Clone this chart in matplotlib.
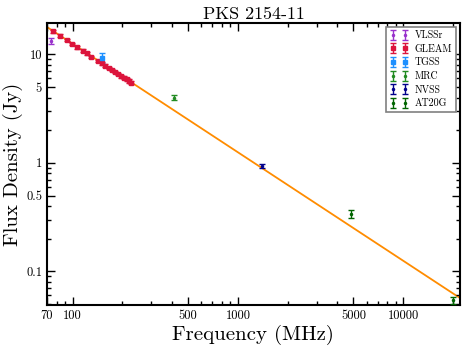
import matplotlib
matplotlib.use("Agg")
import matplotlib.pyplot as plt
from matplotlib.ticker import FixedLocator, FixedFormatter, NullFormatter, LogLocator

plt.rcParams['font.family'] = ['cmr10', 'DejaVu Serif']
plt.rcParams['mathtext.fontset'] = 'cm'
plt.rcParams['axes.unicode_minus'] = False

# data (MHz, Jy)
vlssr_freq = [74]
vlssr_flux = [13.4]
vlssr_err = [0.9]

gleam_freq = [76, 84, 92, 99, 107, 115, 122, 130, 143, 151,
              158, 166, 174, 181, 189, 197, 204, 212, 220, 227]
gleam_flux = [16.3, 14.9, 13.6, 12.5, 11.6, 10.8, 10.2, 9.5, 8.7, 8.3,
              7.9, 7.5, 7.2, 6.9, 6.6, 6.3, 6.1, 5.9, 5.7, 5.5]
gleam_err = [0.5, 0.4, 0.4, 0.3, 0.3, 0.3, 0.3, 0.25, 0.25, 0.25,
             0.2, 0.2, 0.2, 0.2, 0.2, 0.2, 0.2, 0.2, 0.2, 0.2]

tgss_freq = [150]
tgss_flux = [9.3]
tgss_err = [0.9]

mrc_freq = [408]
mrc_flux = [4.0]
mrc_err = [0.2]

nvss_freq = [1400]
nvss_flux = [0.94]
nvss_err = [0.04]

at20g_freq = [4800, 20000]
at20g_flux = [0.34, 0.0545]
at20g_err = [0.03, 0.004]

# fitted power law, drawn between its two end points
fit_freq = [70, 22000]
fit_flux = [17.9, 0.0569]

xticks = [70, 100, 500, 1000, 5000, 10000]
xtick_labels = ['70', '100', '500', '1000', '5000', '10000']
yticks = [0.1, 0.5, 1, 5, 10]
ytick_labels = ['0.1', '0.5', '1', '5', '10']

fig = plt.figure(figsize=(4.65, 3.53), dpi=100)
ax = fig.add_axes([0.101, 0.136, 0.888, 0.799])

ax.plot(fit_freq, fit_flux, color='darkorange', lw=1.3, zorder=1)

kw = dict(ls='none', capsize=2, elinewidth=1, capthick=1, zorder=3)
ax.errorbar(vlssr_freq, vlssr_flux, yerr=vlssr_err, fmt='.', ms=3,
            color='darkorchid', label='VLSSr', **kw)
ax.errorbar(gleam_freq, gleam_flux, yerr=gleam_err, fmt='s', ms=3.3,
            color='crimson', label='GLEAM', **kw)
ax.errorbar(tgss_freq, tgss_flux, yerr=tgss_err, fmt='s', ms=3,
            color='dodgerblue', label='TGSS', **kw)
ax.errorbar(mrc_freq, mrc_flux, yerr=mrc_err, fmt='.', ms=3,
            color='forestgreen', label='MRC', **kw)
ax.errorbar(nvss_freq, nvss_flux, yerr=nvss_err, fmt='.', ms=3,
            color='darkblue', label='NVSS', **kw)
ax.errorbar(at20g_freq, at20g_flux, yerr=at20g_err, fmt='.', ms=3,
            color='darkgreen', label='AT20G', **kw)

ax.set_xscale('log')
ax.set_yscale('log')
ax.set_xlim(70, 22000)
ax.set_ylim(0.049, 19.5)

ax.xaxis.set_major_locator(FixedLocator(xticks))
ax.xaxis.set_major_formatter(FixedFormatter(xtick_labels))
ax.xaxis.set_minor_locator(LogLocator(base=10, subs=range(2, 10), numticks=20))
ax.xaxis.set_minor_formatter(NullFormatter())
ax.yaxis.set_major_locator(FixedLocator(yticks))
ax.yaxis.set_major_formatter(FixedFormatter(ytick_labels))
ax.yaxis.set_minor_locator(LogLocator(base=10, subs=range(2, 10), numticks=20))
ax.yaxis.set_minor_formatter(NullFormatter())

ax.tick_params(which='both', direction='in', top=True, right=True, labelsize=9)
ax.tick_params(which='major', length=6, width=1)
ax.tick_params(which='minor', length=3, width=1)
for s in ax.spines.values():
    s.set_linewidth(1.5)

ax.set_xlabel('Frequency (MHz)', fontsize=15, labelpad=2)
ax.set_ylabel('Flux Density (Jy)', fontsize=15, labelpad=2)
ax.set_title('PKS 2154-11', fontsize=13, pad=3)

leg = ax.legend(loc='upper right', numpoints=2, fontsize=7.2, fancybox=False,
                edgecolor='0.5', framealpha=1, borderaxespad=0.4,
                handlelength=1.8, handletextpad=0.6, labelspacing=0.4)
leg.get_frame().set_linewidth(1.2)

fig.savefig('out.png', dpi=100)
